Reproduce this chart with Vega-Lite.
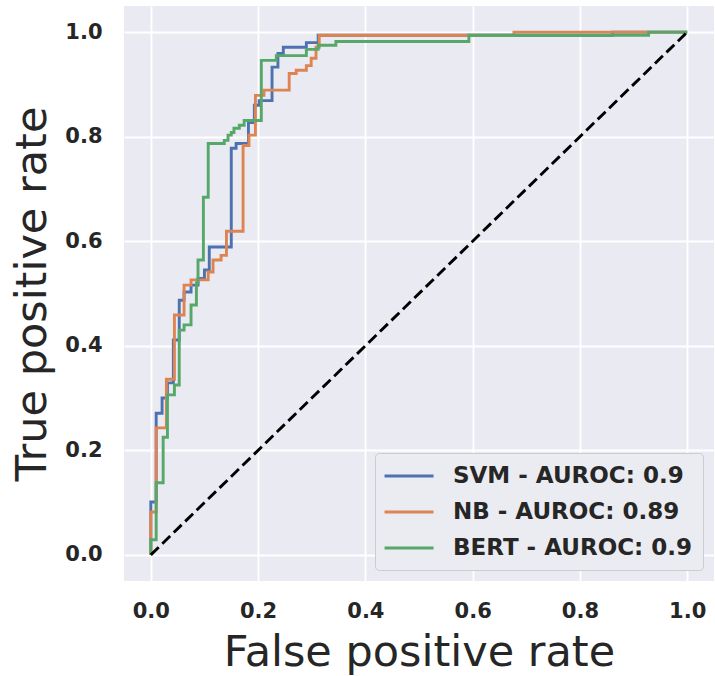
{
  "$schema": "https://vega.github.io/schema/vega-lite/v6.json",
  "width": 590,
  "height": 575,
  "autosize": "none",
  "padding": {"left": 124, "top": 6, "right": 1, "bottom": 95},
  "background": "white",
  "datasets": {
    "roc": [
      {"model": "SVM - AUROC: 0.9", "fpr": 0, "tpr": 0},
      {"model": "SVM - AUROC: 0.9", "fpr": 0, "tpr": 0.101},
      {"model": "SVM - AUROC: 0.9", "fpr": 0.010, "tpr": 0.101},
      {"model": "SVM - AUROC: 0.9", "fpr": 0.010, "tpr": 0.271},
      {"model": "SVM - AUROC: 0.9", "fpr": 0.021, "tpr": 0.271},
      {"model": "SVM - AUROC: 0.9", "fpr": 0.021, "tpr": 0.300},
      {"model": "SVM - AUROC: 0.9", "fpr": 0.031, "tpr": 0.300},
      {"model": "SVM - AUROC: 0.9", "fpr": 0.031, "tpr": 0.329},
      {"model": "SVM - AUROC: 0.9", "fpr": 0.042, "tpr": 0.329},
      {"model": "SVM - AUROC: 0.9", "fpr": 0.042, "tpr": 0.411},
      {"model": "SVM - AUROC: 0.9", "fpr": 0.053, "tpr": 0.411},
      {"model": "SVM - AUROC: 0.9", "fpr": 0.053, "tpr": 0.487},
      {"model": "SVM - AUROC: 0.9", "fpr": 0.062, "tpr": 0.487},
      {"model": "SVM - AUROC: 0.9", "fpr": 0.062, "tpr": 0.503},
      {"model": "SVM - AUROC: 0.9", "fpr": 0.075, "tpr": 0.503},
      {"model": "SVM - AUROC: 0.9", "fpr": 0.075, "tpr": 0.516},
      {"model": "SVM - AUROC: 0.9", "fpr": 0.088, "tpr": 0.516},
      {"model": "SVM - AUROC: 0.9", "fpr": 0.088, "tpr": 0.529},
      {"model": "SVM - AUROC: 0.9", "fpr": 0.100, "tpr": 0.529},
      {"model": "SVM - AUROC: 0.9", "fpr": 0.100, "tpr": 0.545},
      {"model": "SVM - AUROC: 0.9", "fpr": 0.109, "tpr": 0.545},
      {"model": "SVM - AUROC: 0.9", "fpr": 0.109, "tpr": 0.589},
      {"model": "SVM - AUROC: 0.9", "fpr": 0.150, "tpr": 0.589},
      {"model": "SVM - AUROC: 0.9", "fpr": 0.150, "tpr": 0.778},
      {"model": "SVM - AUROC: 0.9", "fpr": 0.159, "tpr": 0.778},
      {"model": "SVM - AUROC: 0.9", "fpr": 0.159, "tpr": 0.787},
      {"model": "SVM - AUROC: 0.9", "fpr": 0.182, "tpr": 0.787},
      {"model": "SVM - AUROC: 0.9", "fpr": 0.182, "tpr": 0.827},
      {"model": "SVM - AUROC: 0.9", "fpr": 0.193, "tpr": 0.827},
      {"model": "SVM - AUROC: 0.9", "fpr": 0.193, "tpr": 0.860},
      {"model": "SVM - AUROC: 0.9", "fpr": 0.202, "tpr": 0.860},
      {"model": "SVM - AUROC: 0.9", "fpr": 0.202, "tpr": 0.869},
      {"model": "SVM - AUROC: 0.9", "fpr": 0.226, "tpr": 0.869},
      {"model": "SVM - AUROC: 0.9", "fpr": 0.226, "tpr": 0.933},
      {"model": "SVM - AUROC: 0.9", "fpr": 0.237, "tpr": 0.933},
      {"model": "SVM - AUROC: 0.9", "fpr": 0.237, "tpr": 0.959},
      {"model": "SVM - AUROC: 0.9", "fpr": 0.247, "tpr": 0.959},
      {"model": "SVM - AUROC: 0.9", "fpr": 0.247, "tpr": 0.971},
      {"model": "SVM - AUROC: 0.9", "fpr": 0.290, "tpr": 0.971},
      {"model": "SVM - AUROC: 0.9", "fpr": 0.290, "tpr": 0.980},
      {"model": "SVM - AUROC: 0.9", "fpr": 0.312, "tpr": 0.980},
      {"model": "SVM - AUROC: 0.9", "fpr": 0.312, "tpr": 0.994},
      {"model": "SVM - AUROC: 0.9", "fpr": 0.861, "tpr": 0.994},
      {"model": "SVM - AUROC: 0.9", "fpr": 0.861, "tpr": 1.0},
      {"model": "SVM - AUROC: 0.9", "fpr": 1.0, "tpr": 1.0},

      {"model": "NB - AUROC: 0.89", "fpr": 0, "tpr": 0},
      {"model": "NB - AUROC: 0.89", "fpr": 0, "tpr": 0.082},
      {"model": "NB - AUROC: 0.89", "fpr": 0.010, "tpr": 0.082},
      {"model": "NB - AUROC: 0.89", "fpr": 0.010, "tpr": 0.243},
      {"model": "NB - AUROC: 0.89", "fpr": 0.029, "tpr": 0.243},
      {"model": "NB - AUROC: 0.89", "fpr": 0.029, "tpr": 0.336},
      {"model": "NB - AUROC: 0.89", "fpr": 0.044, "tpr": 0.336},
      {"model": "NB - AUROC: 0.89", "fpr": 0.044, "tpr": 0.459},
      {"model": "NB - AUROC: 0.89", "fpr": 0.062, "tpr": 0.459},
      {"model": "NB - AUROC: 0.89", "fpr": 0.062, "tpr": 0.516},
      {"model": "NB - AUROC: 0.89", "fpr": 0.075, "tpr": 0.516},
      {"model": "NB - AUROC: 0.89", "fpr": 0.075, "tpr": 0.526},
      {"model": "NB - AUROC: 0.89", "fpr": 0.107, "tpr": 0.526},
      {"model": "NB - AUROC: 0.89", "fpr": 0.107, "tpr": 0.541},
      {"model": "NB - AUROC: 0.89", "fpr": 0.116, "tpr": 0.541},
      {"model": "NB - AUROC: 0.89", "fpr": 0.116, "tpr": 0.564},
      {"model": "NB - AUROC: 0.89", "fpr": 0.131, "tpr": 0.564},
      {"model": "NB - AUROC: 0.89", "fpr": 0.131, "tpr": 0.573},
      {"model": "NB - AUROC: 0.89", "fpr": 0.141, "tpr": 0.573},
      {"model": "NB - AUROC: 0.89", "fpr": 0.141, "tpr": 0.619},
      {"model": "NB - AUROC: 0.89", "fpr": 0.172, "tpr": 0.619},
      {"model": "NB - AUROC: 0.89", "fpr": 0.172, "tpr": 0.783},
      {"model": "NB - AUROC: 0.89", "fpr": 0.183, "tpr": 0.783},
      {"model": "NB - AUROC: 0.89", "fpr": 0.183, "tpr": 0.803},
      {"model": "NB - AUROC: 0.89", "fpr": 0.195, "tpr": 0.803},
      {"model": "NB - AUROC: 0.89", "fpr": 0.195, "tpr": 0.879},
      {"model": "NB - AUROC: 0.89", "fpr": 0.211, "tpr": 0.879},
      {"model": "NB - AUROC: 0.89", "fpr": 0.211, "tpr": 0.889},
      {"model": "NB - AUROC: 0.89", "fpr": 0.258, "tpr": 0.889},
      {"model": "NB - AUROC: 0.89", "fpr": 0.258, "tpr": 0.921},
      {"model": "NB - AUROC: 0.89", "fpr": 0.271, "tpr": 0.921},
      {"model": "NB - AUROC: 0.89", "fpr": 0.271, "tpr": 0.927},
      {"model": "NB - AUROC: 0.89", "fpr": 0.290, "tpr": 0.927},
      {"model": "NB - AUROC: 0.89", "fpr": 0.290, "tpr": 0.936},
      {"model": "NB - AUROC: 0.89", "fpr": 0.299, "tpr": 0.936},
      {"model": "NB - AUROC: 0.89", "fpr": 0.299, "tpr": 0.950},
      {"model": "NB - AUROC: 0.89", "fpr": 0.308, "tpr": 0.950},
      {"model": "NB - AUROC: 0.89", "fpr": 0.308, "tpr": 0.971},
      {"model": "NB - AUROC: 0.89", "fpr": 0.314, "tpr": 0.971},
      {"model": "NB - AUROC: 0.89", "fpr": 0.314, "tpr": 0.994},
      {"model": "NB - AUROC: 0.89", "fpr": 0.677, "tpr": 0.994},
      {"model": "NB - AUROC: 0.89", "fpr": 0.677, "tpr": 1.0},
      {"model": "NB - AUROC: 0.89", "fpr": 1.0, "tpr": 1.0},

      {"model": "BERT - AUROC: 0.9", "fpr": 0, "tpr": 0},
      {"model": "BERT - AUROC: 0.9", "fpr": 0, "tpr": 0.029},
      {"model": "BERT - AUROC: 0.9", "fpr": 0.010, "tpr": 0.029},
      {"model": "BERT - AUROC: 0.9", "fpr": 0.010, "tpr": 0.138},
      {"model": "BERT - AUROC: 0.9", "fpr": 0.023, "tpr": 0.138},
      {"model": "BERT - AUROC: 0.9", "fpr": 0.023, "tpr": 0.225},
      {"model": "BERT - AUROC: 0.9", "fpr": 0.031, "tpr": 0.225},
      {"model": "BERT - AUROC: 0.9", "fpr": 0.031, "tpr": 0.306},
      {"model": "BERT - AUROC: 0.9", "fpr": 0.044, "tpr": 0.306},
      {"model": "BERT - AUROC: 0.9", "fpr": 0.044, "tpr": 0.325},
      {"model": "BERT - AUROC: 0.9", "fpr": 0.053, "tpr": 0.325},
      {"model": "BERT - AUROC: 0.9", "fpr": 0.053, "tpr": 0.430},
      {"model": "BERT - AUROC: 0.9", "fpr": 0.062, "tpr": 0.430},
      {"model": "BERT - AUROC: 0.9", "fpr": 0.062, "tpr": 0.440},
      {"model": "BERT - AUROC: 0.9", "fpr": 0.075, "tpr": 0.440},
      {"model": "BERT - AUROC: 0.9", "fpr": 0.075, "tpr": 0.478},
      {"model": "BERT - AUROC: 0.9", "fpr": 0.085, "tpr": 0.478},
      {"model": "BERT - AUROC: 0.9", "fpr": 0.085, "tpr": 0.520},
      {"model": "BERT - AUROC: 0.9", "fpr": 0.088, "tpr": 0.520},
      {"model": "BERT - AUROC: 0.9", "fpr": 0.088, "tpr": 0.564},
      {"model": "BERT - AUROC: 0.9", "fpr": 0.098, "tpr": 0.564},
      {"model": "BERT - AUROC: 0.9", "fpr": 0.098, "tpr": 0.684},
      {"model": "BERT - AUROC: 0.9", "fpr": 0.107, "tpr": 0.684},
      {"model": "BERT - AUROC: 0.9", "fpr": 0.107, "tpr": 0.787},
      {"model": "BERT - AUROC: 0.9", "fpr": 0.137, "tpr": 0.787},
      {"model": "BERT - AUROC: 0.9", "fpr": 0.137, "tpr": 0.793},
      {"model": "BERT - AUROC: 0.9", "fpr": 0.144, "tpr": 0.793},
      {"model": "BERT - AUROC: 0.9", "fpr": 0.144, "tpr": 0.803},
      {"model": "BERT - AUROC: 0.9", "fpr": 0.150, "tpr": 0.803},
      {"model": "BERT - AUROC: 0.9", "fpr": 0.150, "tpr": 0.808},
      {"model": "BERT - AUROC: 0.9", "fpr": 0.155, "tpr": 0.808},
      {"model": "BERT - AUROC: 0.9", "fpr": 0.155, "tpr": 0.816},
      {"model": "BERT - AUROC: 0.9", "fpr": 0.165, "tpr": 0.816},
      {"model": "BERT - AUROC: 0.9", "fpr": 0.165, "tpr": 0.822},
      {"model": "BERT - AUROC: 0.9", "fpr": 0.174, "tpr": 0.822},
      {"model": "BERT - AUROC: 0.9", "fpr": 0.174, "tpr": 0.831},
      {"model": "BERT - AUROC: 0.9", "fpr": 0.206, "tpr": 0.831},
      {"model": "BERT - AUROC: 0.9", "fpr": 0.206, "tpr": 0.946},
      {"model": "BERT - AUROC: 0.9", "fpr": 0.234, "tpr": 0.946},
      {"model": "BERT - AUROC: 0.9", "fpr": 0.234, "tpr": 0.955},
      {"model": "BERT - AUROC: 0.9", "fpr": 0.290, "tpr": 0.955},
      {"model": "BERT - AUROC: 0.9", "fpr": 0.290, "tpr": 0.967},
      {"model": "BERT - AUROC: 0.9", "fpr": 0.312, "tpr": 0.967},
      {"model": "BERT - AUROC: 0.9", "fpr": 0.312, "tpr": 0.975},
      {"model": "BERT - AUROC: 0.9", "fpr": 0.345, "tpr": 0.975},
      {"model": "BERT - AUROC: 0.9", "fpr": 0.345, "tpr": 0.982},
      {"model": "BERT - AUROC: 0.9", "fpr": 0.593, "tpr": 0.982},
      {"model": "BERT - AUROC: 0.9", "fpr": 0.593, "tpr": 0.994},
      {"model": "BERT - AUROC: 0.9", "fpr": 0.928, "tpr": 0.994},
      {"model": "BERT - AUROC: 0.9", "fpr": 0.928, "tpr": 1.0},
      {"model": "BERT - AUROC: 0.9", "fpr": 1.0, "tpr": 1.0}
    ],
    "diag": [
      {"fpr": 0, "tpr": 0},
      {"fpr": 1, "tpr": 1}
    ]
  },
  "encoding": {
    "x": {
      "field": "fpr", "type": "quantitative",
      "scale": {"domain": [-0.05, 1.05], "nice": false, "zero": false},
      "axis": {"title": "False positive rate", "values": [0, 0.2, 0.4, 0.6, 0.8, 1.0], "format": ".1f", "labelPadding": 19, "titlePadding": 10}
    },
    "y": {
      "field": "tpr", "type": "quantitative",
      "scale": {"domain": [-0.05, 1.05], "nice": false, "zero": false},
      "axis": {"title": "True positive rate", "values": [0, 0.2, 0.4, 0.6, 0.8, 1.0], "format": ".1f", "labelPadding": 22, "titlePadding": 10}
    }
  },
  "layer": [
    {
      "data": {"name": "roc"},
      "transform": [{"filter": "datum.model == 'SVM - AUROC: 0.9'"}],
      "mark": {"type": "line", "strokeWidth": 2.9, "strokeJoin": "miter", "strokeCap": "butt"},
      "encoding": {
        "order": {"value": null},
        "color": {"field": "model", "type": "nominal",
          "scale": {"domain": ["SVM - AUROC: 0.9", "NB - AUROC: 0.89", "BERT - AUROC: 0.9"], "range": ["#4C72B0", "#DD8452", "#55A868"]},
          "legend": {"title": null, "orient": "bottom-right", "offset": 11}}
      }
    },
    {
      "data": {"name": "roc"},
      "transform": [{"filter": "datum.model == 'NB - AUROC: 0.89'"}],
      "mark": {"type": "line", "strokeWidth": 2.9, "strokeJoin": "miter", "strokeCap": "butt"},
      "encoding": {
        "order": {"value": null},
        "color": {"field": "model", "type": "nominal"}
      }
    },
    {
      "data": {"name": "roc"},
      "transform": [{"filter": "datum.model == 'BERT - AUROC: 0.9'"}],
      "mark": {"type": "line", "strokeWidth": 2.9, "strokeJoin": "miter", "strokeCap": "butt"},
      "encoding": {
        "order": {"value": null},
        "color": {"field": "model", "type": "nominal"}
      }
    },
    {
      "data": {"name": "diag"},
      "mark": {"type": "line", "color": "black", "strokeWidth": 2.9, "strokeDash": [11, 5]},
      "encoding": {}
    }
  ],
  "config": {
    "view": {"fill": "#EAEAF2", "stroke": null},
    "axis": {
      "domain": false, "ticks": false, "tickSize": 0,
      "grid": true, "gridColor": "white", "gridWidth": 1.8,
      "labelFont": "DejaVu Sans", "labelFontWeight": "bold", "labelFontSize": 21, "labelColor": "#262626",
      "titleFont": "DejaVu Sans", "titleFontWeight": "normal", "titleFontSize": 43, "titleColor": "#262626"
    },
    "legend": {
      "fillColor": "#EBEBF2", "strokeColor": "#CCCCCC", "cornerRadius": 4, "padding": 10,
      "symbolType": "M-1.17,0H3.09", "symbolSize": 529, "symbolStrokeWidth": 2.9, "symbolFillColor": "transparent",
      "labelFont": "DejaVu Sans", "labelFontWeight": "bold", "labelFontSize": 23, "labelColor": "#262626",
      "labelOffset": 42, "rowPadding": 11, "labelLimit": 400
    }
  }
}
